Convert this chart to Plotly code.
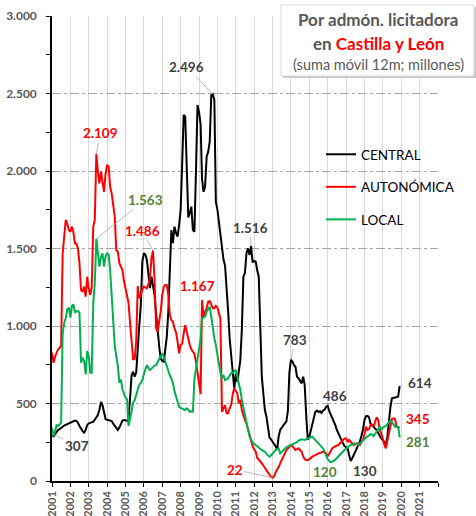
import pandas as pd
import plotly.graph_objects as go

# ---------------- data (monthly, Jan 2001 - Dec 2019; millones, suma móvil 12m) -------------
months = pd.date_range("2001-01-01", "2019-12-01", freq="MS")

central = [
    307, 285, 300, 320, 330, 335, 340, 350, 358, 362, 370, 372,        # 2001
    375, 380, 385, 390, 388, 376, 355, 335, 322, 312, 330, 360,        # 2002
    372, 375, 380, 383, 395, 410, 426, 460, 510, 490, 439, 400,        # 2003
    395, 392, 390, 387, 370, 355, 342, 329, 345, 370, 390, 393,        # 2004
    390, 385, 387, 535, 680, 705, 673, 700, 877, 1000, 1135, 1415,    # 2005
    1470, 1460, 1426, 1340, 1245, 1318, 1250, 1200, 1080, 963, 870, 790,  # 2006
    775, 770, 850, 930, 1092, 1350, 1619, 1535, 1641, 1600, 1576, 1650,  # 2007
    1748, 2050, 2361, 2350, 1990, 1700, 1729, 1770, 1619, 1608, 2000, 2426,  # 2008
    2380, 2300, 1950, 1866, 1899, 2092, 2124, 2189, 2490, 2496, 2458, 1800,  # 2009
    1750, 1660, 1580, 1480, 1430, 1390, 1260, 1100, 920, 790, 705, 600,  # 2010
    690, 640, 729, 780, 974, 1318, 1340, 1469, 1501, 1458, 1516, 1410,  # 2011
    1420, 1415, 1361, 1318, 1000, 673, 566, 458, 415, 340, 280, 268,   # 2012
    255, 243, 225, 200, 286, 329, 345, 361, 372, 383, 450, 700,        # 2013
    783, 770, 748, 737, 673, 662, 641, 630, 673, 619, 420, 265,        # 2014
    286, 330, 372, 415, 447, 455, 445, 450, 440, 455, 460, 480,        # 2015
    486, 450, 430, 405, 385, 360, 329, 305, 286, 265, 243, 225,        # 2016
    215, 211, 170, 130, 145, 165, 185, 205, 230, 254, 290, 329,        # 2017
    394, 419, 420, 411, 370, 361, 350, 340, 329, 310, 286, 275,        # 2018
    265, 250, 232, 286, 394, 479, 533, 535, 536, 538, 544, 614,        # 2019
]

autonomica = [
    828, 763, 800, 828, 850, 860, 871, 1469, 1560, 1684, 1660, 1620,   # 2001
    1608, 1641, 1608, 1533, 1533, 1500, 1405, 1232, 1221, 1254, 1189, 1318,  # 2002
    1240, 1200, 1250, 1640, 1684, 2109, 2000, 1920, 1995, 1942, 1866, 1985,  # 2003
    2039, 2028, 1900, 1856, 1770, 1705, 1490, 1479, 1405, 1383, 1361, 1290,  # 2004
    1240, 1190, 1150, 1021, 892, 785, 785, 900, 1258, 1180, 1200, 1237,  # 2005
    1254, 1248, 1243, 1270, 1308, 1440, 1486, 1300, 985, 963, 1028, 1092,  # 2006
    1200, 1254, 1264, 1264, 1200, 1071, 1039, 1028, 985, 960, 900, 824,  # 2007
    877, 885, 950, 1006, 963, 910, 877, 850, 834, 820, 770, 700,        # 2008
    600, 560, 1167, 1060, 1092, 1114, 1157, 1160, 1140, 1114, 1114, 1130,  # 2009
    1120, 1090, 1049, 447, 469, 490, 437, 437, 469, 490, 560, 600,      # 2010
    580, 566, 501, 523, 458, 420, 394, 372, 330, 290, 250, 225,        # 2011
    205, 190, 150, 135, 125, 114, 100, 82, 65, 55, 40, 25,             # 2012
    22, 30, 55, 71, 90, 114, 135, 157, 178, 200, 210, 225,             # 2013
    232, 225, 210, 200, 205, 211, 200, 189, 160, 140, 135, 135,        # 2014
    140, 150, 157, 162, 168, 172, 178, 180, 185, 189, 185, 178,        # 2015
    160, 180, 200, 210, 218, 221, 228, 232, 243, 254, 265, 275,        # 2016
    275, 250, 265, 255, 240, 232, 240, 243, 238, 232, 250, 265,        # 2017
    300, 350, 330, 335, 360, 365, 350, 390, 411, 394, 329, 307,        # 2018
    265, 235, 211, 260, 320, 375, 400, 404, 400, 350, 346, 345,        # 2019
]

local = [
    344, 290, 320, 360, 355, 370, 376, 950, 1020, 1050, 1108, 1118,    # 2001
    1054, 1129, 1140, 1086, 1095, 1097, 1086, 763, 796, 774, 688, 839,  # 2002
    806, 699, 699, 1150, 1275, 1563, 1490, 1383, 1447, 1469, 1383, 1447,  # 2003
    1469, 1460, 1361, 1194, 1021, 871, 806, 742, 634, 656, 592, 560,   # 2004
    538, 527, 355, 398, 441, 505, 520, 548, 590, 620, 634, 650,        # 2005
    690, 720, 748, 730, 716, 725, 737, 745, 748, 765, 780, 800,        # 2006
    824, 802, 770, 740, 705, 680, 662, 630, 580, 540, 500, 479,        # 2007
    472, 469, 462, 458, 469, 460, 447, 450, 447, 660, 720, 770,        # 2008
    850, 920, 1049, 1055, 1060, 1092, 1110, 1124, 1060, 985, 920, 877,  # 2009
    813, 780, 700, 662, 684, 651, 655, 662, 680, 695, 700, 705,        # 2010
    716, 673, 630, 587, 523, 470, 420, 380, 330, 290, 262, 247,        # 2011
    240, 232, 225, 211, 205, 200, 195, 189, 175, 165, 157, 165,        # 2012
    178, 190, 200, 205, 211, 178, 189, 200, 211, 218, 224, 228,        # 2013
    232, 235, 240, 243, 250, 260, 265, 269, 267, 265, 270, 275,        # 2014
    280, 283, 286, 275, 265, 255, 243, 232, 221, 210, 190, 165,        # 2015
    140, 130, 120, 125, 130, 138, 148, 157, 168, 178, 190, 200,        # 2016
    210, 220, 226, 232, 236, 240, 243, 238, 232, 243, 254, 265,        # 2017
    272, 280, 286, 295, 302, 300, 290, 305, 318, 335, 350, 329,        # 2018
    345, 350, 358, 365, 380, 389, 380, 360, 350, 350, 350, 281,        # 2019
]

series_names = ["CENTRAL", "AUTONÓMICA", "LOCAL"]
year_ticks = list(range(2001, 2023))
year_labels = [str(y) for y in year_ticks[:-1]] + [""]
y_ticks = [0, 500, 1000, 1500, 2000, 2500, 3000]

# ---------------- styling ----------------
FONT = "Lato"
GRAY = "#595959"
LBL_GRAY = "#404040"
RED = "#ff0000"
GREEN_LINE = "#00b050"
GREEN_LBL = "#548235"

W, H = 476, 516
L, R, T, B = 52, 38, 16, 35
PW, PH = W - L - R, H - T - B


def xp(px):
    return (px - L) / PW


def yp(py):
    return (H - B - py) / PH


def fmt(v):
    return f"{v:,.0f}".replace(",", ".")


fig = go.Figure()
colors = ["#000000", RED, GREEN_LINE]
for name, vals, col in zip(series_names, [central, autonomica, local], colors):
    fig.add_trace(go.Scatter(x=months, y=vals, mode="lines", name=name,
                             legendgroup=name,
                             line=dict(color=col, width=2)))

s = {"CENTRAL": pd.Series(central, index=months),
     "AUTONÓMICA": pd.Series(autonomica, index=months),
     "LOCAL": pd.Series(local, index=months)}

# (series, date, color, arrow?, dx, dy)  dx/dy = pixel offset of label centre
labels = [
    ("CENTRAL", "2009-10-01", LBL_GRAY, True, -26, -27),
    ("AUTONÓMICA", "2003-06-01", RED, True, 4, -21),
    ("LOCAL", "2003-06-01", GREEN_LBL, True, 49, -39),
    ("AUTONÓMICA", "2006-07-01", RED, True, -11, -20),
    ("CENTRAL", "2011-11-01", LBL_GRAY, True, -1, -18),
    ("AUTONÓMICA", "2009-03-01", RED, False, -5, -14),
    ("CENTRAL", "2001-01-01", LBL_GRAY, True, 25, 13),
    ("AUTONÓMICA", "2013-01-01", RED, True, -38, -8),
    ("CENTRAL", "2014-01-01", LBL_GRAY, True, 4, -20),
    ("CENTRAL", "2016-01-01", LBL_GRAY, False, 7, -10),
    ("CENTRAL", "2019-12-01", LBL_GRAY, False, 20, -3),
    ("AUTONÓMICA", "2019-12-01", RED, False, 18, -9),
    ("LOCAL", "2019-12-01", GREEN_LBL, False, 18, 5),
    ("LOCAL", "2016-03-01", GREEN_LBL, False, -6, 10),
    ("CENTRAL", "2017-04-01", LBL_GRAY, False, 14, 10),
]

for ser, d, col, arrow, dx, dy in labels:
    v = s[ser][pd.Timestamp(d)]
    common = dict(x=d, y=v, xref="x", yref="y", text=fmt(v),
                  xanchor="center", yanchor="middle",
                  font=dict(family=FONT, size=13.5, color=col, weight="bold"))
    if arrow:
        fig.add_annotation(**common, showarrow=True, ax=dx, ay=dy,
                           arrowhead=0, arrowwidth=0.8, arrowcolor="#a6a6a6",
                           standoff=0, startstandoff=0)
    else:
        fig.add_annotation(**common, showarrow=False, xshift=dx, yshift=-dy)

# title box (decoration)
fig.add_shape(type="rect", xref="paper", yref="paper", layer="above",
              x0=xp(283), x1=xp(476), y0=yp(78), y1=yp(7),
              fillcolor="#c8c8c8", line=dict(width=0))
fig.add_shape(type="rect", xref="paper", yref="paper", layer="above",
              x0=xp(281), x1=xp(474), y0=yp(76), y1=yp(5),
              fillcolor="white", line=dict(color="#d9d9d9", width=1))
title_lines = [
    ("<b>Por admón. licitadora</b>", 20, 17),
    (f"<b>en <span style='color:{RED}'>Castilla y León</span></b>", 43, 17),
    ("(suma móvil 12m; millones)", 65, 14.5),
]
for txt, py, sz in title_lines:
    fig.add_annotation(xref="paper", yref="paper", x=xp(378), y=yp(py),
                       xanchor="center", yanchor="middle",
                       text=txt, showarrow=False,
                       font=dict(family=FONT, size=sz, color=GRAY))

fig.update_layout(
    width=W, height=H,
    margin=dict(l=L, r=R, t=T, b=B, autoexpand=False),
    paper_bgcolor="white", plot_bgcolor="white",
    separators=",.",
    showlegend=True,
    legend=dict(x=xp(321), y=yp(139), xanchor="left", yanchor="top",
                bgcolor="rgba(0,0,0,0)", traceorder="grouped",
                tracegroupgap=12,
                font=dict(family=FONT, size=13.5, color="#000000")),
    font=dict(family=FONT),
)

fig.update_xaxes(
    type="date",
    range=["2001-01-01", "2022-01-01"],
    tickvals=[f"{y}-01-01" for y in year_ticks],
    ticktext=year_labels,
    tickangle=-90,
    tickfont=dict(family=FONT, size=11, color=GRAY, weight="bold"),
    showgrid=True, gridcolor="#d9d9d9", gridwidth=1,
    showline=True, linecolor="#000000", linewidth=1.5,
    ticks="outside", ticklen=4, tickcolor="#000000",
    zeroline=False, automargin=False,
)
fig.update_yaxes(
    range=[0, 3000],
    tickvals=y_ticks,
    tickformat=",d",
    tickfont=dict(family=FONT, size=12, color=GRAY, weight="bold"),
    ticklabelstandoff=7,
    showgrid=True, gridcolor="#a6a6a6", gridwidth=1, griddash="dashdot",
    showline=True, linecolor="#000000", linewidth=1.5,
    ticks="outside", ticklen=4, tickcolor="#000000",
    minor=dict(dtick=250, ticks="outside", ticklen=4, tickcolor="#000000", showgrid=False),
    zeroline=False, automargin=False,
)

fig.write_html("out.html", config={"displayModeBar": False},
               post_script="document.body.style.margin='0';")
